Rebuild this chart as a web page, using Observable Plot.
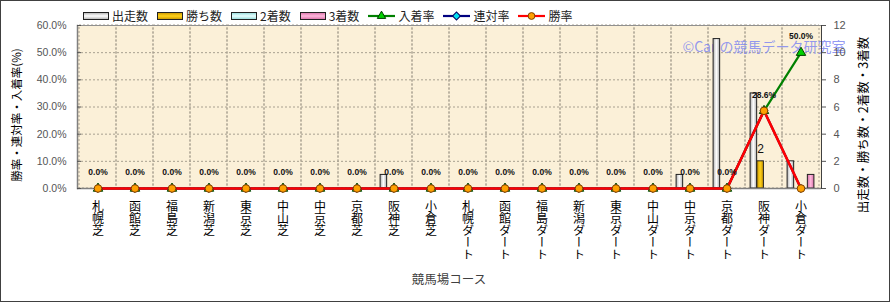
<!DOCTYPE html>
<html><head><meta charset="utf-8">
<script src="https://cdn.jsdelivr.net/npm/d3@7"></script>
<script src="https://cdn.jsdelivr.net/npm/@observablehq/plot@0.6"></script>
<style>
body{margin:0;background:#fff;font-family:'Noto Sans CJK JP',sans-serif;}
#wrap{position:relative;width:890px;height:302px;overflow:hidden;background:#fff;}
#border{position:absolute;left:0;top:0;width:890px;height:302px;box-sizing:border-box;border:1px solid #404040;pointer-events:none;}
#chart svg{position:absolute;left:0;top:0;}
#legend{position:absolute;left:83px;top:7px;display:flex;align-items:center;font-size:12px;line-height:18px;color:#222;white-space:nowrap;}
.item{display:flex;align-items:center;margin-right:9px;}
.item svg{display:block;margin-right:3px;}
.title{position:absolute;white-space:nowrap;color:#000;}
g[aria-label="x-axis tick label"] text{writing-mode:vertical-rl;text-orientation:upright;}
</style></head>
<body>
<div id="wrap">
  <div id="chart"></div>
  <div id="legend"></div>
  <div class="title" id="ltitle" style="left:16px;top:115px;font-size:11.5px;transform:translate(-50%,-50%) rotate(-90deg);">勝率・連対率・入着率(%)</div>
  <div class="title" id="rtitle" style="left:862px;top:125px;font-size:12.5px;transform:translate(-50%,-50%) rotate(-90deg);">出走数・勝ち数・2着数・3着数</div>
  <div class="title" id="xtitle" style="left:449px;top:278px;font-size:12.5px;color:#404040;transform:translate(-50%,-50%);">競馬場コース</div>
  <div id="border"></div>
</div>
<script>
// ---- data ----
const courses = ["札幌芝","函館芝","福島芝","新潟芝","東京芝","中山芝","中京芝","京都芝","阪神芝","小倉芝",
  "札幌ダート","函館ダート","福島ダート","新潟ダート","東京ダート","中山ダート","中京ダート","京都ダート","阪神ダート","小倉ダート"];
const starts  = [0,0,0,0,0,0,0,0,1,0, 0,0,0,0,0,0,1,11,7,2];
const wins    = [0,0,0,0,0,0,0,0,0,0, 0,0,0,0,0,0,0,0,2,0];
const seconds = [0,0,0,0,0,0,0,0,0,0, 0,0,0,0,0,0,0,0,0,0];
const thirds  = [0,0,0,0,0,0,0,0,0,0, 0,0,0,0,0,0,0,0,0,1];
const placeRate  = [0,0,0,0,0,0,0,0,0,0, 0,0,0,0,0,0,0,0,28.6,50.0];
const rentaiRate = [0,0,0,0,0,0,0,0,0,0, 0,0,0,0,0,0,0,0,28.6,0];
const winRate    = [0,0,0,0,0,0,0,0,0,0, 0,0,0,0,0,0,0,0,28.6,0];
const pctTicks = [0,10,20,30,40,50,60];
const countPerPct = 5; // 12 counts = 60%
const watermark = "©Canの競馬データ研究室";

const rows = courses.map((c,i)=>({course:c, starts:starts[i], wins:wins[i], seconds:seconds[i], thirds:thirds[i],
  place:placeRate[i], rentai:rentaiRate[i], win:winRate[i]}));

const barSeries = [
  {key:"starts", name:"出走数", grad:"gWhite", c0:"#b0b0b0", c1:"#ffffff"},
  {key:"wins", name:"勝ち数", grad:"gGold", c0:"#c89400", c1:"#ffd21a"},
  {key:"seconds", name:"2着数", grad:"gCyan", c0:"#90d8d8", c1:"#e8ffff"},
  {key:"thirds", name:"3着数", grad:"gPink", c0:"#d870a8", c1:"#ffb8dc"}
];
const lineSeries = [
  {key:"place", name:"入着率", stroke:"#008000", sym:"triangle", fill:"#00d000", mstroke:"#004000", r:3.5},
  {key:"rentai", name:"連対率", stroke:"#000080", sym:"diamond2", fill:"#00e0f0", mstroke:"#000060", r:3.5},
  {key:"win", name:"勝率", stroke:"#ff0000", sym:"circle", fill:"#ffa000", mstroke:"#804000", r:3.8}
];

const W = 890, H = 302, mL = 77, mR = 69, mT = 25, mB = 114;
const band = (W - mL - mR) / courses.length;
const barW = 6.75;
const groupStart = (band - barW*barSeries.length)/2;

const marks = [
  Plot.frame({fill:"#fbf0d8", stroke:null}),
  Plot.ruleY([10,20,30,40,50], {stroke:"#a8a090", strokeDasharray:"2,2", strokeWidth:1}),
  Plot.barY(courses, {x:d=>d, y1:0, y2:60, fill:"none", stroke:"#a8a090", strokeDasharray:"2,2", strokeWidth:1}),
  Plot.text([watermark], {frameAnchor:"top-right", textAnchor:"end", dx:24, dy:17, fill:"#8088f0", fillOpacity:0.85, fontSize:14})
];
barSeries.forEach((s,i)=>{
  const il = groupStart + i*barW;
  marks.push(Plot.barY(rows.filter(d=>d[s.key]>0), {x:"course", y:d=>d[s.key]*countPerPct,
    insetLeft:il, insetRight:band-il-barW, fill:`url(#${s.grad})`, stroke:"#202020", strokeWidth:1}));
});
marks.push(
  Plot.frame({stroke:"#909090", strokeWidth:1}),
  Plot.ruleY([0], {stroke:"#808080", strokeWidth:1.5}),
  Plot.frame({anchor:"right", stroke:"#404040", strokeWidth:1}),
  Plot.frame({anchor:"left", stroke:"#808080", strokeWidth:1.5})
);
lineSeries.forEach(s=>{
  marks.push(Plot.line(rows, {x:"course", y:s.key, stroke:s.stroke, strokeWidth:s.key==="win"?2.6:2.2}));
});
lineSeries.forEach(s=>{
  marks.push(Plot.dot(rows, {x:"course", y:s.key, symbol:s.sym, r:s.r, fill:s.fill, stroke:s.mstroke, strokeWidth:1}));
});
marks.push(
  Plot.text(rows, {x:"course", y:"place", text:d=>d.place.toFixed(1)+"%", dy:-16, fontSize:8.5, fontWeight:"bold", fontFamily:"'Liberation Sans',Arial,sans-serif", fill:"#111"}),
  Plot.text(rows.filter(d=>d.wins>0), {x:"course", y:d=>d.wins*countPerPct, text:d=>String(d.wins), dx:groupStart+barW*1.5-band/2, dy:-12, fontSize:12, fontFamily:"'Liberation Sans',Arial,sans-serif", fill:"#111"}),
  Plot.axisY({anchor:"left", ticks:pctTicks, tickFormat:d=>d.toFixed(1)+"%", tickSize:-4, tickPadding:15, fontSize:10.5, color:"#555", label:null, fontFamily:"'Liberation Sans',Arial,sans-serif"}),
  Plot.axisY({anchor:"right", ticks:pctTicks, tickFormat:d=>String(d/countPerPct), tickSize:4, tickPadding:8, fontSize:11, color:"#555", label:null, fontFamily:"'Liberation Sans',Arial,sans-serif"}),
  Plot.axisX({tickSize:0, tickPadding:3, textAnchor:"start", lineWidth:Infinity, textOverflow:null, fontSize:12, color:"#000", label:null})
);

const chart = Plot.plot({
  width:W, height:H, marginLeft:mL, marginRight:mR, marginTop:mT, marginBottom:mB,
  x:{type:"band", domain:courses, padding:0},
  y:{domain:[0,60]},
  style:{fontFamily:"'Noto Sans CJK JP',sans-serif", background:"transparent", overflow:"visible"},
  marks
});
const defs = d3.select(chart).insert("defs", ":first-child");
barSeries.forEach(s=>{
  const g = defs.append("linearGradient").attr("id", s.grad).attr("x1","0").attr("x2","1").attr("y1","0").attr("y2","0");
  g.append("stop").attr("offset","0").attr("stop-color", s.c0);
  g.append("stop").attr("offset","0.5").attr("stop-color", s.c1);
  g.append("stop").attr("offset","1").attr("stop-color", s.c0);
});
document.getElementById("chart").appendChild(chart);

// legend
const legend = d3.select("#legend");
barSeries.forEach(s=>{
  const it = legend.append("div").attr("class","item");
  const sv = it.append("svg").attr("width",26).attr("height",10);
  const g2 = sv.append("defs").append("linearGradient").attr("id","LV"+s.grad).attr("x1",0).attr("x2",0).attr("y1",0).attr("y2",1);
  g2.append("stop").attr("offset","0").attr("stop-color",s.c0);
  g2.append("stop").attr("offset","0.5").attr("stop-color",s.c1);
  g2.append("stop").attr("offset","1").attr("stop-color",s.c0);
  sv.append("rect").attr("x",0.5).attr("y",1.5).attr("width",25).attr("height",7).attr("fill",`url(#LV${s.grad})`).attr("stroke","#202020");
  it.append("span").text(s.name);
});
lineSeries.forEach(s=>{
  const it = legend.append("div").attr("class","item");
  const sv = it.append("svg").attr("width",27).attr("height",10);
  sv.append("line").attr("x1",0).attr("x2",27).attr("y1",5).attr("y2",5).attr("stroke",s.stroke).attr("stroke-width",2.2);
  const sym = s.sym==="triangle"?d3.symbolTriangle:(s.sym==="circle"?d3.symbolCircle:d3.symbolSquare);
  sv.append("path").attr("d", d3.symbol(sym, Math.PI*s.r*s.r*0.8)()).attr("transform", `translate(13.5,5)${s.sym==="diamond2"?" rotate(45)":""}`)
    .attr("fill",s.fill).attr("stroke",s.mstroke);
  it.append("span").text(s.name);
});
</script>
</body></html>
